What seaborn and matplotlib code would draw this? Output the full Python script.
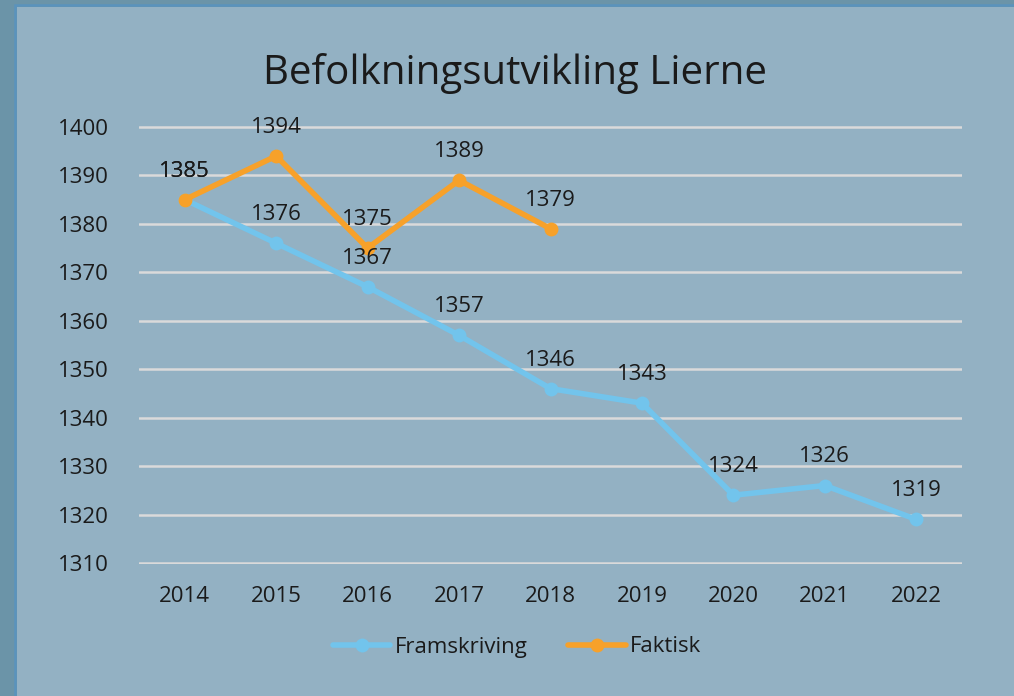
import pandas as pd
import matplotlib.pyplot as plt
import seaborn as sns
from matplotlib.patches import Rectangle

# Data
years = [2014, 2015, 2016, 2017, 2018, 2019, 2020, 2021, 2022]
framskriving = [1385, 1376, 1367, 1357, 1346, 1343, 1324, 1326, 1319]
faktisk_years = [2014, 2015, 2016, 2017, 2018]
faktisk = [1385, 1394, 1375, 1389, 1379]

df = pd.concat([
    pd.DataFrame({'year': years, 'value': framskriving, 'serie': 'Framskriving'}),
    pd.DataFrame({'year': faktisk_years, 'value': faktisk, 'serie': 'Faktisk'}),
])

outer_bg = '#6b94a8'
inner_bg = '#93b1c3'
border = '#5a93bd'
colors = {'Framskriving': '#72c4ec', 'Faktisk': '#f7a12a'}
txt = '#1a1a1a'

sns.set_theme(style='white')
plt.rcParams['font.family'] = ['Open Sans', 'DejaVu Sans']

fig = plt.figure(figsize=(10.14, 6.96), dpi=100, facecolor=outer_bg)
# inner panel with thin border
fig.patches.append(Rectangle((17 / 1014, 0), 1, 1 - 7 / 696, transform=fig.transFigure,
                             facecolor=inner_bg, edgecolor='none', zorder=-2))
fig.patches.append(Rectangle((15 / 1014, -0.01), 1, 1 - 5 / 696 + 0.01, transform=fig.transFigure,
                             facecolor='none', edgecolor=border, linewidth=1.8, zorder=-1))

ax = fig.add_axes([139 / 1014, 1 - 564 / 696, (962 - 139) / 1014, (564 - 126) / 696])
ax.set_facecolor('none')
ax.set_zorder(2)

sns.lineplot(data=df, x='year', y='value', hue='serie', palette=colors,
             marker='o', markersize=10, markeredgewidth=0, linewidth=4,
             ax=ax, legend=True)

# data labels
for x, y in zip(years, framskriving):
    ax.annotate(str(y), (x, y), xytext=(0, 13), textcoords='offset points',
                ha='center', va='bottom', fontsize=16, color=txt)
for x, y in zip(faktisk_years, faktisk):
    ax.annotate(str(y), (x, y), xytext=(0, 13), textcoords='offset points',
                ha='center', va='bottom', fontsize=16, color=txt)

ax.set_xlim(2013.5, 2022.5)
ax.set_ylim(1309.8, 1400.2)
ax.set_xticks(years)
ax.set_yticks(range(1310, 1401, 10))
ax.tick_params(axis='y', labelsize=16, pad=22, length=0, colors=txt)
ax.tick_params(axis='x', labelsize=16, pad=16, length=0, colors=txt)
ax.yaxis.grid(True, color='#dadada', linewidth=1.8)
ax.set_axisbelow(True)
for s in ax.spines.values():
    s.set_visible(False)
ax.set_xlabel('')
ax.set_ylabel('')

fig.text(515 / 1014, 1 - 73 / 696, 'Befolkningsutvikling Lierne', ha='center', va='center',
         fontsize=29, color=txt)

handles, labels = ax.get_legend_handles_labels()
ax.legend(handles, labels, loc='center', bbox_to_anchor=(517 / 1014, 1 - 647 / 696),
          bbox_transform=fig.transFigure, ncol=2, frameon=False, fontsize=16,
          handlelength=2.6, handletextpad=0.2, columnspacing=1.8, labelcolor=txt)

fig.savefig('out.png', dpi=100, facecolor=fig.get_facecolor())
